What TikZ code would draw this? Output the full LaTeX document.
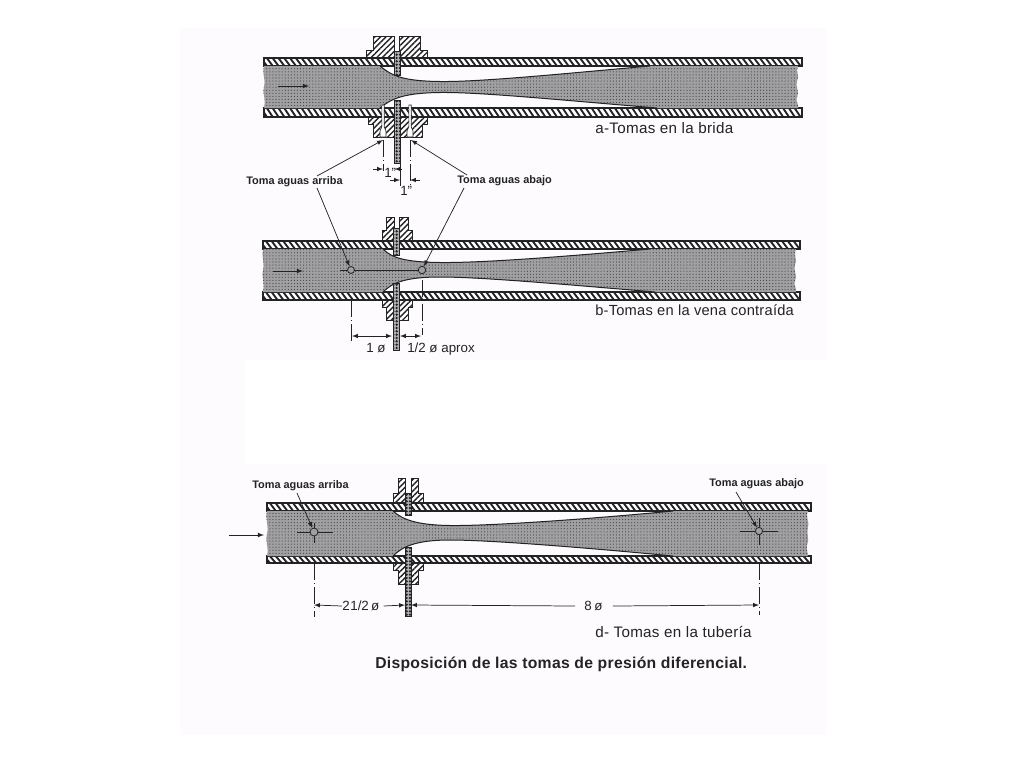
\documentclass[tikz,border=0pt]{standalone}
\usepackage{fontspec}
\setmainfont{Liberation Sans}
\usetikzlibrary{patterns.meta}
\definecolor{papel}{RGB}{253,251,253}
\definecolor{tinta}{RGB}{35,35,38}
\definecolor{vena}{RGB}{160,160,162}

\tikzset{
	flujo/.style={preaction={fill=vena},pattern={Dots[radius=0.45pt,distance=2.3pt]},pattern color=tinta!85},
	borde/.style={draw=tinta,line width=0.75pt},
	brida/.style={draw=tinta,line width=0.7pt,preaction={fill=white},pattern={Lines[angle=45,distance=3pt,line width=1.05pt]},pattern color=tinta},
	placa/.style={draw=tinta,line width=0.4pt,preaction={fill=gray!60},pattern={Dots[radius=0.95pt,distance=2.5pt]},pattern color=tinta},
	toma/.style={draw=tinta,line width=0.6pt,fill=vena},
	tubito/.style={draw=tinta,line width=0.45pt,fill=white},
	eje/.style={draw=tinta,line width=0.5pt,dash pattern=on 13pt off 2pt on 1pt off 2pt},
	cota/.style={draw=tinta,line width=0.55pt},
	guia/.style={draw=tinta,line width=0.55pt},
	rotulo/.style={text=tinta,anchor=west,inner sep=0pt,font=\fontsize{8.2}{10}\selectfont\bfseries},
	medida/.style={text=tinta,anchor=west,inner sep=0pt,font=\fontsize{10}{10}\selectfont},
	titulo/.style={text=tinta,anchor=west,inner sep=0pt,font=\fontsize{11.4}{12}\selectfont\addfontfeature{LetterSpace=2}},
}

% pipe wall: x from, x to, y top, y bottom
\newcommand{\pared}[4]{
	\pgfmathsetmacro{\sigx}{#1+5.8}
	\begin{scope}
		\clip (#1,#3) rectangle (#2,#4);
		\fill[white] (#1,#3) rectangle (#2,#4);
		\foreach \x in {#1,\sigx,...,#2}
			\draw[tinta,line width=1.4pt] (\x-3,#3) -- (\x+3,#4);
	\end{scope}
	\draw[tinta,line width=0.8pt] (#1,#3) rectangle (#2,#4);
}

\begin{document}
\begin{tikzpicture}[x=0.75pt,y=-0.75pt,>=latex]
	\useasboundingbox (0,0) rectangle (1024,768);
	
	% scanned page
	\fill[papel] (180,28) rectangle (826,735);
	\fill[white] (246,360) rectangle (826,464);
	
	% ---- a: flange taps ----
	\draw[brida] (373,36) -- (394,36) -- (394,58) -- (366,58) -- (366,50) -- (373,50) -- cycle;
	\draw[brida] (399,36) -- (420,36) -- (420,50) -- (427,50) -- (427,58) -- (399,58) -- cycle;
	\draw[brida] (368,117) -- (427,117) -- (427,124) -- (422,124) -- (422,137) -- (373,137) -- (373,124) -- (368,124) -- cycle;
	\pared{264}{802}{58}{66}
	\pared{264}{802}{108}{117}
	\fill[flujo] (264,66) -- (380,66) .. controls (392,76) and (403,81) .. (440,81.5)
		.. controls (480,82) and (560,74) .. (650,66) -- (798,66)
		.. controls (795,72) and (800,76) .. (797,81) .. controls (795,87) and (800,92) .. (797,97) .. controls (795,101) and (799,104) .. (798,108)
		-- (657,108) .. controls (560,100) and (480,92) .. (440,92.5)
		.. controls (405,93) and (392,98) .. (380,108) -- (264,108)
		.. controls (266,98) and (262,92) .. (264,87) .. controls (266,80) and (262,74) .. (264,66) -- cycle;
	\draw[borde] (380,66) .. controls (392,76) and (403,81) .. (440,81.5) .. controls (480,82) and (560,74) .. (650,66);
	\draw[borde] (657,108) .. controls (560,100) and (480,92) .. (440,92.5) .. controls (405,93) and (392,98) .. (380,108);
	\draw[placa] (394,51) rectangle (400,75);
	\draw[placa] (394,100) rectangle (400,163);
	\foreach \x in {383,410}
		\draw[tubito] (\x-1.2,105) -- (\x+1.2,105) -- (\x+1.2,127) -- (\x+3,131) -- (\x+3,137) -- (\x-3,137) -- (\x-3,131) -- (\x-1.2,127) -- cycle;
	\draw[tinta,line width=0.6pt,->] (278,86) -- (309,86);
	\coordinate (tomaAa) at (383,140);
	\coordinate (tomaAb) at (411,140);
	\draw[eje] (383,140) -- (383,171);
	\draw[eje] (410,140) -- (410,187);
	\draw[cota] (400,164) -- (400,186);
	\draw[cota,->] (373,169) -- (383,169);
	\draw[cota,->] (402,169) -- (394.5,169);
	\draw[cota,->] (390,180) -- (400,180);
	\draw[cota,->] (420,180) -- (410,180);
	\node[medida] (uno1) at (384,173) {1"};
	\node[medida] (uno2) at (400,191) {1"};
	\node[titulo] (capA) at (595,128) {a-Tomas en la brida};
	
	% ---- b: vena contracta taps ----
	\draw[brida] (386,217) -- (394,217) -- (394,241) -- (382,241) -- (382,230) -- (386,230) -- cycle;
	\draw[brida] (399,217) -- (408,217) -- (408,230) -- (412,230) -- (412,241) -- (399,241) -- cycle;
	\draw[brida] (382,300) -- (412,300) -- (412,307) -- (408,307) -- (408,320) -- (386,320) -- (386,307) -- (382,307) -- cycle;
	\pared{263}{800}{241}{249}
	\pared{263}{800}{292}{300}
	\fill[flujo] (263,249) -- (383,249) .. controls (392,258) and (405,262) .. (440,262.5)
		.. controls (480,263) and (560,257) .. (650,249) -- (796,249)
		.. controls (793,255) and (798,260) .. (795,265) .. controls (793,270) and (798,276) .. (795,281) .. controls (793,285) and (797,288) .. (796,292)
		-- (655,292) .. controls (560,284) and (480,277) .. (440,277)
		.. controls (405,277) and (392,283) .. (383,292) -- (263,292)
		.. controls (265,282) and (261,276) .. (263,270) .. controls (265,262) and (261,256) .. (263,249) -- cycle;
	\draw[borde] (383,249) .. controls (392,258) and (405,262) .. (440,262.5) .. controls (480,263) and (560,257) .. (650,249);
	\draw[borde] (655,292) .. controls (560,284) and (480,277) .. (440,277) .. controls (405,277) and (392,283) .. (383,292);
	\draw[placa] (393,228) rectangle (399,255);
	\draw[placa] (393,283) rectangle (399,350);
	\draw[tinta,line width=0.6pt,->] (273,271) -- (303,271);
	\draw[tinta,line width=0.7pt] (340,270) -- (420,270);
	\node[toma,circle,inner sep=0pt,minimum size=5.2pt] (tomaBa) at (351,270) {};
	\node[toma,circle,inner sep=0pt,minimum size=5.6pt] (tomaBb) at (422,270) {};
	\draw[eje] (351,300) -- (351,343);
	\draw[eje] (422,280) -- (422,335);
	\draw[cota,<->] (352,336) -- (392,336);
	\draw[cota,<->] (400,336) -- (421,336);
	\node[medida] (cotaB1) at (366,348) {1 ø};
	\node[medida] (cotaB2) at (407,349) {1/2 ø aprox};
	\node[titulo,font=\fontsize{11}{12}\selectfont\addfontfeature{LetterSpace=1.6}] (capB) at (595,310) {b-Tomas en la vena contraída};
	
	% labels shared by a and b
	\node[rotulo] (arribaA) at (246,182) {Toma aguas arriba};
	\node[rotulo] (abajoA) at (457,181) {Toma aguas abajo};
	\draw[guia,->] (317,176) -- (tomaAa);
	\draw[guia,->] (467,175) -- (tomaAb);
	\draw[guia,->] (317,188) -- (tomaBa);
	\draw[guia,->] (464,188) -- (tomaBb);
	
	% ---- d: pipe taps ----
	\draw[brida] (398,478) -- (405,478) -- (405,503) -- (393,503) -- (393,493) -- (398,493) -- cycle;
	\draw[brida] (411,478) -- (418,478) -- (418,493) -- (423,493) -- (423,503) -- (411,503) -- cycle;
	\draw[brida] (393,563) -- (423,563) -- (423,570) -- (418,570) -- (418,584) -- (398,584) -- (398,570) -- (393,570) -- cycle;
	\pared{267}{811}{503}{511}
	\pared{267}{811}{556}{563}
	\fill[flujo] (267,511) -- (393,511) .. controls (402,519) and (415,525) .. (450,525.5)
		.. controls (490,526) and (590,519) .. (673,511) -- (808,511)
		.. controls (805,518) and (810,522) .. (808,527) .. controls (806,533) and (810,540) .. (807,545) .. controls (806,549) and (808,553) .. (808,556)
		-- (673,556) .. controls (590,548) and (490,540) .. (450,540)
		.. controls (415,540) and (402,547) .. (393,556) -- (267,556)
		.. controls (269,547) and (265,541) .. (267,534) .. controls (269,526) and (265,519) .. (267,511) -- cycle;
	\draw[borde] (393,511) .. controls (402,519) and (415,525) .. (450,525.5) .. controls (490,526) and (590,519) .. (673,511);
	\draw[borde] (673,556) .. controls (590,548) and (490,540) .. (450,540) .. controls (415,540) and (402,547) .. (393,556);
	\draw[placa] (405,493) rectangle (411,515);
	\draw[placa] (405,547) rectangle (411,616);
	\draw[tinta,line width=0.6pt,->] (229,535) -- (264,535);
	\node[toma,circle,inner sep=0pt,minimum size=6pt] (tomaDa) at (314,532) {};
	\node[toma,circle,inner sep=0pt,minimum size=5.4pt] (tomaDb) at (759,531) {};
	\draw[tinta,line width=0.6pt] (297,532) -- (tomaDa) -- (333,532);
	\draw[tinta,line width=0.6pt] (314,523) -- (tomaDa) -- (314,543);
	\draw[tinta,line width=0.7pt] (740,531) -- (tomaDb) -- (778,531);
	\draw[tinta,line width=0.7pt] (759,518) -- (tomaDb) -- (759,545);
	\draw[eje] (314,563) -- (314,617);
	\draw[eje] (759,563) -- (759,615);
	\node[medida] (cotaD1) at (342,606) {2\kern0.5pt1/2\,ø};
	\node[medida] (cotaD2) at (584,606) {8\kern2ptø};
	\draw[cota,->] (cotaD1.west) -- (314,605);
	\draw[cota,->] (cotaD1.east) ++(4,0) -- (405,605);
	\draw[cota,->] (cotaD2.west) ++(-9,0) -- (411,605);
	\draw[cota,->] (cotaD2.east) ++(10,0) -- (759,605);
	\node[rotulo] (arribaD) at (252,486) {Toma aguas arriba};
	\node[rotulo] (abajoD) at (709,484) {Toma aguas abajo};
	\draw[guia,->] (297,493) -- (tomaDa);
	\draw[guia,->] (736,492) -- (tomaDb);
	\node[titulo] (capD) at (595,632) {d- Tomas en la tubería};
	\node[titulo,font=\fontsize{11.8}{13}\selectfont\bfseries\addfontfeature{LetterSpace=1.8}] (pie) at (375,664) {Disposición de las tomas de presión diferencial.};
	
\end{tikzpicture}
\end{document}
